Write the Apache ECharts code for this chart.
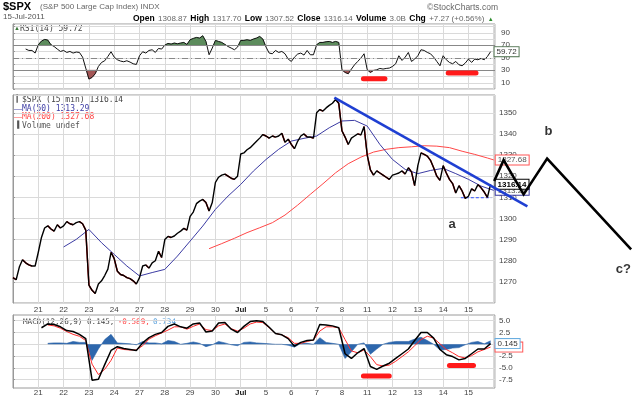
<!DOCTYPE html>
<html><head><meta charset="utf-8">
<script src="https://cdn.jsdelivr.net/npm/echarts@6.0.0/dist/echarts.min.js"></script>
<style>html,body{margin:0;padding:0;background:#fff}#c{width:640px;height:402px}</style>
</head><body><div id="c"></div>
<script>
// ---------------- DATA ----------------
const dayLabels = ['20','21','22','23','24','27','28','29','30','Jul','5','6','7','8','11','12','13','14','15'];

// 15-min closes sampled 8 per trading day, starting at day 0 (20 Jun)
const priceStart = 0, priceStep = 0.125;
const priceClose = [
  1272,1271,1277,1280.5,1279,1278,1277.5,1277.5,
  1284,1291,1295.5,1296.5,1295,1294,1297,1295.5,
  1296.5,1298.5,1297.5,1297,1298,1298.5,1297.5,1294.5,
  1268.5,1266,1264.5,1269,1270.5,1273,1276,1284,
  1281,1275,1273.5,1273,1272,1271.5,1270.5,1269,
  1272,1277.5,1278,1276.5,1279,1280,1284.5,1281.5,
  1290,1291.5,1291,1291.7,1293,1294,1295.3,1294.5,
  1301,1303,1307,1308.2,1309,1307.5,1303.5,1307.5,
  1317,1319.5,1320.5,1321,1320,1319,1318.5,1320,
  1330.5,1331,1332.5,1333.5,1335,1336.5,1338,1339.7,
  1339,1338,1339,1338.5,1339,1340.3,1336,1337.5,
  1335,1333,1336.5,1339,1340,1338.5,1338.5,1338,
  1350,1351.5,1350.8,1352.3,1353.5,1354.5,1356.3,1354.5,
  1341.5,1338.5,1335,1338,1339,1340,1339.5,1343.5,
  1330,1323,1320.5,1322.5,1321.5,1320.5,1319.5,1318.5,
  1320.5,1321,1321.5,1322.5,1321,1324,1322,1315.5,
  1325,1331,1330.3,1329.5,1327.5,1324,1320,1318,
  1325,1321.5,1318.5,1316.5,1312,1315.5,1313,1309.5,
  1310.5,1314,1313,1316,1314.5,1312.5,1310,1316.14
];

const ma50Start = 2.0, ma50Step = 0.5;
const ma50 = [1286.5,1290.1,1294.8,1288.5,1283,1277.5,1272.8,1274.4,1275.9,1282.2,1289.3,1296.4,1304.3,1310.6,1316.1,1322.4,1327.9,1332.7,1336.6,1337.9,1339,1342.9,1346.1,1346.4,1343.7,1335,1327.9,1323.2,1321.2,1322.7,1323.7,1321.2,1318.5,1315.3,1313.29];

const ma200Days = [7.75,8.25,8.75,9.25,9.75,10.25,10.75,11.25,11.75,12.25,12.75,13.25,13.75,14.25,14.75,15.25,15.75,16.25,16.75,17.25,17.75,18.25,18.75,19.0];
const ma200 = [1285.7,1288.1,1290.6,1293.3,1295.6,1298,1301.6,1306.3,1311.4,1316.4,1321.6,1325.9,1329,1331.4,1332.7,1333.5,1333.9,1334.4,1334.2,1333.5,1331.8,1330.3,1328.6,1327.68];

const rsiStart = 0.5, rsiStep = 0.125;
const rsi14 = [
  64,61.7,61.7,57.5,
  70.8,76.7,79.3,78.3,70.8,68,63.9,60.1,
  61.7,58.5,60.1,57.5,59.1,58.5,51,33.5,
  15.9,18.5,24.4,36.1,42.5,45.2,52.1,59.6,
  51,46.8,44.7,43.6,45.2,43.1,40.4,39.3,
  53.2,59.6,57.5,61.7,62.8,58.5,64.9,63.9,
  70.2,72.9,71.9,73.5,72.4,73.5,74.5,71.3,
  78.8,80.9,82.5,81.5,85.2,76.1,54.8,65.5,
  77.7,76.1,74.5,71.3,68,65.5,62.8,67.1,
  77.7,77.7,78.8,77.7,79.9,81.5,84.1,79.9,
  67.1,57.5,56.4,61.7,58.5,60.1,56.4,47.9,
  44.1,51,55.9,57.5,54.3,61.7,54.8,54.8,
  70.8,74.5,74.5,75.6,76.1,74.5,76.1,74.5,
  30.8,26.5,24.4,31.9,38.8,44.1,49.5,56.4,
  30.8,26.5,29.7,30.8,32.9,31.9,32.9,33.5,
  36.1,40.4,53.2,45.7,51,58.5,44.1,47.9,
  53.2,62.8,61.7,58.5,56.4,51,44.1,37.2,
  53.2,46.8,42.5,40.4,44.1,38.8,37.2,41.5,
  47.9,42.5,47.9,46.8,48.9,46.8,52,59.72
];

const macdStart = 1.125, macdStep = 0.25;
const macdLine = [
  3.5,4.3,4.2,3.7, 2.9,2.7,2.1,1.2, -7.6,-7.4,-4.3,-1.3, -0.5,-0.9,-1.1,-1.3,
  0.3,1.4,2.1,2.5, 3.8,4.3,3.7,3.4, 4.3,4.5,2.6,2.8, 4.5,4.6,3.2,2.5,
  3.8,4.8,5.0,4.8, 3.6,2.3,2.0,1.2, -0.4,0.4,0.8,0.9, 4.2,4.1,3.9,3.5,
  -2.0,-3.0,-1.8,-0.9, -4.7,-5.3,-4.6,-4.0, -3.0,-2.0,-1.0,0.8, 2.5,2.5,1.3,-1.1,
  -2.2,-2.6,-3.3,-3.0, -2.0,-1.0,-1.0,0.145
];
const signalStart = 1.375, signalStep = 0.25;
const signalLine = [
  4.1,3.9,3.4, 2.7,2.1,1.7,0.8, -4.2,-6.4,-5.3,-3.4, -0.8,-1.1,-1.2,-1.2,
  -0.3,1.1,1.8,2.4, 3.0,3.7,3.7,3.2, 3.8,4.3,3.1,2.9, 3.9,4.3,3.3,2.8,
  3.4,4.3,4.7,4.6, 3.5,2.3,2.0,1.4, 0.2,0.2,0.6,0.9, 2.8,3.7,3.7,3.5,
  1.0,-1.4,-1.8,-1.2, -2.6,-4.3,-4.6,-4.4, -3.6,-2.6,-1.6,-0.3, 1.0,1.7,1.3,0.1,
  -1.1,-1.8,-2.6,-2.9, -2.4,-1.6,-1.1,-0.589
];

// hand-drawn annotations (data units: day index, price / indicator value)
const trendDays = [12.70, 20.33], trendPrices = [1357.2, 1305.7];
const zigzagDays = [19.02, 19.39, 20.18, 21.11, 24.43];
const zigzagPrices = [1317.7, 1327.6, 1311.4, 1328.3, 1285.4];
const waveLabels = ['a','b','c?'];
const waveDays = [17.36, 21.16, 24.12];
const wavePrices = [1297.2, 1341.1, 1275.9];
const supportDays = [17.7, 18.9], supportPrice = 1309.8;
const rsiMarkDays = [[13.85,14.7],[17.2,18.3]], rsiMarkLevels = [16.4, 25.5];
const macdMarkDays = [[13.85,14.87],[17.25,18.2]], macdMarkLevels = [-6.7, -4.5];

// ---------------- BUILD ----------------
const F = "'Liberation Sans', Arial, sans-serif";
const M = "'DejaVu Sans Mono', monospace";
const seq = (s, st, arr) => arr.map((v, i) => [+(s + i * st).toFixed(4), v]);
const pricePts = seq(priceStart, priceStep, priceClose);
const rsiPts = seq(rsiStart, rsiStep, rsi14);
const ma50Pts = seq(ma50Start, ma50Step, ma50);
const ma200Pts = ma200Days.map((d, i) => [d, ma200[i]]);
const macdPts = seq(macdStart, macdStep, macdLine);
const signalPts = seq(signalStart, signalStep, signalLine);
const histPts = signalLine.map((s, i) => [+(signalStart + i * signalStep).toFixed(4), +(macdLine[i + 1] - s).toFixed(3)]);
const last = a => a[a.length - 1];
const histLast = +(last(macdLine) - last(signalLine)).toFixed(3);

const downSegs = [];
for (let i = 1; i < pricePts.length; i++) {
  if (pricePts[i][1] < pricePts[i - 1][1]) downSegs.push([pricePts[i-1][0], pricePts[i-1][1], pricePts[i][0], pricePts[i][1]]);
}

function bandPolys(pts, level, above) {
  const polys = []; let cur = null;
  const inside = v => above ? v > level : v < level;
  for (let i = 0; i < pts.length; i++) {
    const [x, v] = pts[i];
    if (i > 0) {
      const [px, pv] = pts[i - 1];
      if (inside(pv) !== inside(v)) {
        const t = (level - pv) / (v - pv);
        const cx = px + t * (x - px);
        if (cur) { cur.push([cx, level]); polys.push(cur); cur = null; }
        else cur = [[cx, level]];
      }
    }
    if (inside(v)) { if (!cur) cur = [[x, level]]; cur.push([x, v]); }
  }
  if (cur) { cur.push([last(pts)[0], level]); polys.push(cur); }
  return polys;
}
const hiPolys = bandPolys(rsiPts, 70, true);
const loPolys = bandPolys(rsiPts, 30, false);
const bandRenderer = (polys, fill) => (params, api) => {
  if (params.dataIndex !== 0) return null;
  return { type: 'group', children: polys.map(p => ({
    type: 'polygon', shape: { points: p.map(q => api.coord(q)) },
    style: { fill: fill, stroke: fill, lineWidth: 0.6 } })) };
};

const GL = 13, GR = 145, XMAX = 19.05;
const dayFmt = v => {
  const i = Math.round(v);
  if (Math.abs(v - i) > 1e-6 || i < 1 || i > 18) return '';
  return dayLabels[i] === 'Jul' ? '{b|Jul}' : dayLabels[i];
};
function xAx(gi, show, margin) {
  return { type: 'value', gridIndex: gi, min: 0, max: XMAX, interval: 1,
    axisLine: { show: false }, axisTick: { show: false },
    splitLine: { show: true, lineStyle: { color: '#dadada', width: 1 } },
    axisLabel: { show: show, margin: margin, fontSize: 8, color: '#444', fontFamily: F,
      showMinLabel: false, showMaxLabel: false, formatter: dayFmt,
      rich: { b: { fontWeight: 'bold', fontSize: 8, color: '#222', fontFamily: F } } } };
}
const yBase = (gi) => ({ type: 'value', gridIndex: gi, position: 'right', scale: true,
  axisLine: { show: true, lineStyle: { color: '#999' } },
  axisTick: { show: true, length: 2, lineStyle: { color: '#999' } },
  splitLine: { show: true, lineStyle: { color: '#dadada' } } });

const tag = (txt, border, color, bold, dist) => ({
  show: true, formatter: () => txt, distance: dist, fontSize: 8, fontFamily: F,
  color: color, fontWeight: bold ? 'bold' : 'normal', backgroundColor: '#fff',
  borderColor: border, borderWidth: 1, padding: [1, 2, 0, 2] });

const markSeries = (days, level, xi, yi) => ({
  type: 'line', xAxisIndex: xi, yAxisIndex: yi, data: days.map(d => [d, level]),
  symbol: 'none', silent: true, z: 6,
  lineStyle: { color: '#ff1a1a', width: 5, cap: 'round' } });

const series = [
  // RSI panel
  { type: 'custom', xAxisIndex: 0, yAxisIndex: 0, data: [[rsiStart, 70]], silent: true, z: 1,
    renderItem: bandRenderer(hiPolys, '#5d8c5d') },
  { type: 'custom', xAxisIndex: 0, yAxisIndex: 0, data: [[rsiStart, 30]], silent: true, z: 1,
    renderItem: bandRenderer(loPolys, '#a35656') },
  { type: 'line', xAxisIndex: 0, yAxisIndex: 0, data: rsiPts, symbol: 'none', z: 3,
    lineStyle: { color: '#111', width: 1 },
    endLabel: tag(last(rsi14).toFixed(2), '#557755', '#333', false, 4),
    markLine: { symbol: 'none', silent: true, label: { show: false },
      data: [
        { yAxis: 70, lineStyle: { color: '#888', type: 'solid', width: 1 } },
        { yAxis: 30, lineStyle: { color: '#888', type: 'solid', width: 1 } },
        { yAxis: 50, lineStyle: { color: '#888', type: [6, 3, 1, 3], width: 1 } } ] } },
  ...rsiMarkDays.map((d, i) => markSeries(d, rsiMarkLevels[i], 0, 0)),

  // Price panel
  { type: 'line', xAxisIndex: 1, yAxisIndex: 1, data: ma200Pts, symbol: 'none', z: 2,
    lineStyle: { color: '#ff4747', width: 1 }, endLabel: tag(last(ma200).toFixed(2), '#ff5555', '#555', false, 2) },
  { type: 'line', xAxisIndex: 1, yAxisIndex: 1, data: ma50Pts, symbol: 'none', z: 2,
    lineStyle: { color: '#3b3ba3', width: 1 }, endLabel: tag(last(ma50).toFixed(2), '#3b3ba3', '#555', false, 2) },
  { type: 'line', xAxisIndex: 1, yAxisIndex: 1, data: supportDays.map(d => [d, supportPrice]), symbol: 'none', z: 2,
    lineStyle: { color: '#3050ff', width: 1, type: [3, 2] } },
  { type: 'line', xAxisIndex: 1, yAxisIndex: 1, data: pricePts, symbol: 'none', z: 4,
    lineStyle: { color: '#000', width: 1.4 }, endLabel: tag(last(priceClose).toFixed(2), '#000', '#000', true, 5) },
  { type: 'custom', xAxisIndex: 1, yAxisIndex: 1, data: downSegs, z: 4, silent: true,
    encode: { x: [0, 2], y: [1, 3] },
    renderItem: (params, api) => {
      const a = api.coord([api.value(0), api.value(1)]);
      const b = api.coord([api.value(2), api.value(3)]);
      return { type: 'line', shape: { x1: a[0], y1: a[1], x2: b[0], y2: b[1] },
        style: { stroke: '#e00000', lineWidth: 1.4 } };
    } },

  // Overlay (hand-drawn annotations extending past the price panel; same price scale)
  { type: 'line', xAxisIndex: 3, yAxisIndex: 3, data: trendDays.map((d, i) => [d, trendPrices[i]]),
    symbol: 'none', z: 6, silent: true, lineStyle: { color: '#1f3fd2', width: 2.6 } },
  { type: 'line', xAxisIndex: 3, yAxisIndex: 3, data: zigzagDays.map((d, i) => [d, zigzagPrices[i]]),
    symbol: 'none', z: 6, silent: true, lineStyle: { color: '#000', width: 2.6, join: 'miter' } },
  { type: 'scatter', xAxisIndex: 3, yAxisIndex: 3, data: waveDays.map((d, i) => [d, wavePrices[i]]),
    symbolSize: 1, z: 7, silent: true, itemStyle: { color: 'rgba(0,0,0,0)' },
    label: { show: true, position: 'inside', formatter: p => waveLabels[p.dataIndex],
      fontSize: 13, fontWeight: 'bold', color: '#000', fontFamily: F } },

  // MACD panel
  { type: 'line', xAxisIndex: 2, yAxisIndex: 2, data: histPts, symbol: 'none', z: 2,
    lineStyle: { color: '#2a62a6', width: 0.6 }, areaStyle: { color: '#2d67ad', opacity: 1 } },
  { type: 'line', xAxisIndex: 2, yAxisIndex: 2, data: signalPts, symbol: 'none', z: 3,
    lineStyle: { color: '#ff2a2a', width: 1 }, endLabel: tag(last(signalLine).toFixed(3), '#ff5555', '#555', false, 5) },
  { type: 'line', xAxisIndex: 2, yAxisIndex: 2, data: macdPts, symbol: 'none', z: 4,
    lineStyle: { color: '#000', width: 1.5 }, endLabel: tag(last(macdLine).toFixed(3), '#6aaee0', '#333', false, 5) },
  ...macdMarkDays.map((d, i) => markSeries(d, macdMarkLevels[i], 2, 2))
];

const gtext = (left, top, text, opt) => ({ type: 'text', left: left, top: top, silent: true,
  style: Object.assign({ text: text, fontSize: 8, fontFamily: F, fill: '#555' }, opt || {}) });

const hdrPairs = [['Open','1308.87'],['High','1317.70'],['Low','1307.52'],['Close','1316.14'],['Volume','3.0B'],['Chg','+7.27 (+0.56%)']];
const hdrText = hdrPairs.map(p => '{b|' + p[0] + '} {v|' + p[1] + '}').join(' ') + ' {g|\u25B2}';

const option = {
  animation: false,
  backgroundColor: '#fff',
  grid: [
    { left: GL, right: GR, top: 24, height: 65, show: true, borderColor: '#9a9a9a', borderWidth: 1 },
    { left: GL, right: GR, top: 95, height: 208, show: true, borderColor: '#9a9a9a', borderWidth: 1 },
    { left: GL, right: GR, top: 315, height: 73, show: true, borderColor: '#9a9a9a', borderWidth: 1 },
    { left: GL, right: 0, top: 95, height: 208, show: false }
  ],
  xAxis: [xAx(0, false, 2), xAx(1, true, 3), xAx(2, true, 1),
    { type: 'value', gridIndex: 3, min: 0, max: XMAX * (640 - GL) / (640 - GL - GR), show: false }],
  yAxis: [
    Object.assign(yBase(0), { min: 0, max: 104, interval: 10,
      axisLabel: { margin: 6, fontSize: 8, color: '#444', fontFamily: F,
        formatter: v => [10, 30, 50, 70, 90].includes(v) ? String(v) : '' } }),
    Object.assign(yBase(1), { min: 1260, max: 1358.4, interval: 10,
      axisLabel: { margin: 4, fontSize: 8, color: '#444', fontFamily: F, showMaxLabel: false, showMinLabel: false,
        formatter: v => (v >= 1270 && v <= 1350) ? String(v) : '' } }),
    Object.assign(yBase(2), { min: -9.25, max: 6.2,
      axisTick: { show: true, length: 2, lineStyle: { color: '#999' }, customValues: [-7.5, -5, -2.5, 0, 2.5, 5] },
      axisLabel: { margin: 4, fontSize: 8, color: '#444', fontFamily: F,
        customValues: [-7.5, -5, -2.5, 0, 2.5, 5], formatter: v => v.toFixed(1) } }),
    { type: 'value', gridIndex: 3, min: 1260, max: 1358.4, show: false }
  ],
  series: series,
  graphic: [
    gtext(3, 1, '$SPX', { fontSize: 11, fontWeight: 'bold', fill: '#000' }),
    gtext(40, 3, '(S&P 500 Large Cap Index) INDX', { fontSize: 8, fill: '#666' }),
    gtext(3, 13, '15-Jul-2011', { fontSize: 8, fill: '#555' }),
    gtext(427, 3, '\u00A9StockCharts.com', { fontSize: 8.5, fill: '#666' }),
    { type: 'text', left: 133, top: 13, silent: true, style: { text: hdrText,
      rich: { b: { fontFamily: F, fontSize: 8.5, fontWeight: 'bold', fill: '#000', color: '#000' },
              v: { fontFamily: F, fontSize: 8, fill: '#666', color: '#666' },
              g: { fontFamily: F, fontSize: 6, fill: '#2a8a2a', color: '#2a8a2a' } } } },
    gtext(14, 25, '\u25B2', { fill: '#3d7a3d', fontSize: 6 }),
    gtext(20, 25, 'RSI(14) ' + last(rsi14).toFixed(2), { fontFamily: M, fontSize: 8, fill: '#444' }),
    gtext(15, 96, '\u2503', { fontFamily: M, fontSize: 7, fill: '#333' }),
    gtext(22, 96, '$SPX (15 min) ' + last(priceClose).toFixed(2), { fontFamily: M, fontSize: 8, fill: '#444' }),
    gtext(14, 105, '\u2014', { fontFamily: F, fontSize: 8, fill: '#3b3ba3' }),
    gtext(22, 105, 'MA(50) ' + last(ma50).toFixed(2), { fontFamily: M, fontSize: 8, fill: '#3b3ba3' }),
    gtext(14, 113, '\u2014', { fontFamily: F, fontSize: 8, fill: '#ff4747' }),
    gtext(22, 113, 'MA(200) ' + last(ma200).toFixed(2), { fontFamily: M, fontSize: 8, fill: '#ff4747' }),
    gtext(15, 122, '\u2590', { fontFamily: M, fontSize: 7, fill: '#555' }),
    gtext(22, 122, 'Volume undef', { fontFamily: M, fontSize: 8, fill: '#555' }),
    gtext(15, 316, '\u2014', { fontFamily: F, fontSize: 8, fill: '#000' }),
    { type: 'text', left: 23, top: 316, silent: true, style: {
      text: '{k|MACD(12,26,9) ' + last(macdLine).toFixed(3) + ',} {r|' + last(signalLine).toFixed(3) + ',} {c|' + histLast.toFixed(3) + '}',
      rich: { k: { fontFamily: M, fontSize: 7.6, fill: '#444', color: '#444' },
              r: { fontFamily: M, fontSize: 7.6, fill: '#ff4747', color: '#ff4747' },
              c: { fontFamily: M, fontSize: 7.6, fill: '#5aa0dc', color: '#5aa0dc' } } } }
  ]
};
const chart = echarts.init(document.getElementById('c'), null, { renderer: 'canvas' });
chart.setOption(option);
</script></body></html>
